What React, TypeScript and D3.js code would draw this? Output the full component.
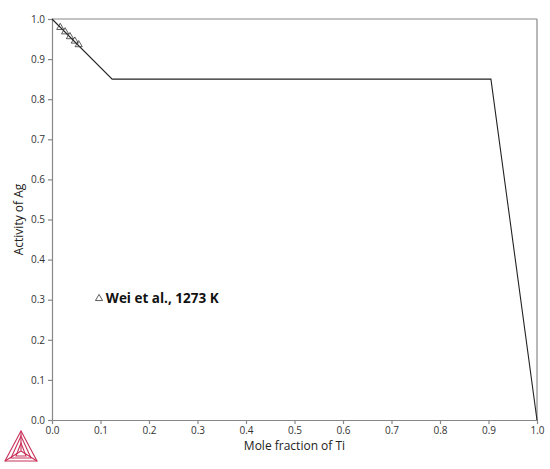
import React, { useEffect, useRef } from "react";
import * as d3 from "d3";

// calculated curve: activity of Ag vs mole fraction of Ti
const curveX = [0, 0.124, 0.905, 1.0];
const curveY = [1.0, 0.85, 0.85, 0.0];

// experimental points (Wei et al., 1273 K)
const expX = [0.017, 0.027, 0.037, 0.047, 0.055];
const expY = [0.979, 0.968, 0.956, 0.945, 0.936];

const tickValues = [0, 0.1, 0.2, 0.3, 0.4, 0.5, 0.6, 0.7, 0.8, 0.9, 1.0];
const legendLabel = "Wei et al., 1273 K";

const App = () => {
  const ref = useRef<SVGSVGElement>(null);

  useEffect(() => {
    const svg = d3.select(ref.current);
    svg.selectAll("*").remove();
    const width = 550;
    const height = 469;
    const margin = { top: 19, right: 13, bottom: 49, left: 52 };
    const innerW = width - margin.left - margin.right;
    const innerH = height - margin.top - margin.bottom;
    const font = "'Open Sans', 'DejaVu Sans', sans-serif";
    const axisColor = "#888";

    const x = d3.scaleLinear().domain([0, 1]).range([0, innerW]);
    const y = d3.scaleLinear().domain([0, 1]).range([innerH, 0]);

    const g = svg.append("g").attr("transform", `translate(${margin.left},${margin.top})`);

    // frame: top and right
    g.append("line").attr("x1", 0).attr("x2", innerW).attr("y1", 0).attr("y2", 0)
      .attr("stroke", axisColor).attr("stroke-width", 1.2);
    g.append("line").attr("x1", innerW).attr("x2", innerW).attr("y1", 0).attr("y2", innerH)
      .attr("stroke", axisColor).attr("stroke-width", 1.2);

    const xAxis = g.append("g").attr("transform", `translate(0,${innerH})`)
      .call(d3.axisBottom(x).tickValues(tickValues).tickFormat(d3.format(".1f")).tickSize(4).tickSizeOuter(0));
    const yAxis = g.append("g")
      .call(d3.axisLeft(y).tickValues(tickValues).tickFormat(d3.format(".1f")).tickSize(4).tickSizeOuter(0));
    [xAxis, yAxis].forEach((a) => {
      a.selectAll("path, line").attr("stroke", axisColor).attr("stroke-width", 1.2);
      a.selectAll("text").attr("fill", "#333").style("font-family", font).style("font-size", "10px");
    });

    // axis titles
    g.append("text").attr("x", innerW / 2).attr("y", innerH + 30)
      .attr("text-anchor", "middle").style("font-family", font).style("font-size", "12px")
      .attr("fill", "#222").text("Mole fraction of Ti");
    g.append("text").attr("transform", `translate(${-29},${innerH / 2}) rotate(-90)`)
      .attr("text-anchor", "middle").style("font-family", font).style("font-size", "12px")
      .attr("fill", "#222").text("Activity of Ag");

    // curve
    const line = d3.line<number>().x((d, i) => x(curveX[i])).y((d) => y(d));
    g.append("path").datum(curveY).attr("d", line).attr("fill", "none")
      .attr("stroke", "#222").attr("stroke-width", 1.1);

    // experimental triangles
    const tri = d3.symbol().type(d3.symbolTriangle).size(22);
    g.selectAll(".exp").data(expX).enter().append("path")
      .attr("transform", (d, i) => `translate(${x(d)},${y(expY[i])})`)
      .attr("d", tri).attr("fill", "none").attr("stroke", "#333").attr("stroke-width", 0.8);

    // legend
    g.append("path").attr("transform", `translate(${x(0.097)},${y(0.303)})`)
      .attr("d", tri).attr("fill", "none").attr("stroke", "#333").attr("stroke-width", 0.8);
    g.append("text").attr("x", x(0.111)).attr("y", y(0.303) + 5)
      .style("font-family", font).style("font-size", "13.5px").style("font-weight", "bold")
      .attr("fill", "#111").text(legendLabel);

    // logo
    const logo = svg.append("g").attr("transform", "translate(4,431)").attr("fill", "none")
      .attr("stroke", "#c8325a").attr("stroke-width", 1.1);
    const A: [number, number] = [17, 0], B: [number, number] = [1, 30], C: [number, number] = [33, 30];
    const c: [number, number] = [17, 20];
    logo.append("path").attr("d", `M${A}L${B}L${C}Z`);
    logo.append("path").attr("d", `M${A[0]},${A[1] + 5}L${B[0] + 6},${B[1] - 3}L${C[0] - 6},${C[1] - 3}Z`);
    logo.append("path").attr("d", `M${A}L${c}M${B}L${c}M${C}L${c}`);
    logo.append("path").attr("d", `M${A[0]},${A[1] + 12}L${B[0] + 11},${B[1] - 5}L${C[0] - 11},${C[1] - 5}Z`);
  }, []);

  return <svg ref={ref} width={550} height={469} style={{ display: "block", position: "absolute", left: 0, top: 0 }} />;
};

export default App;
